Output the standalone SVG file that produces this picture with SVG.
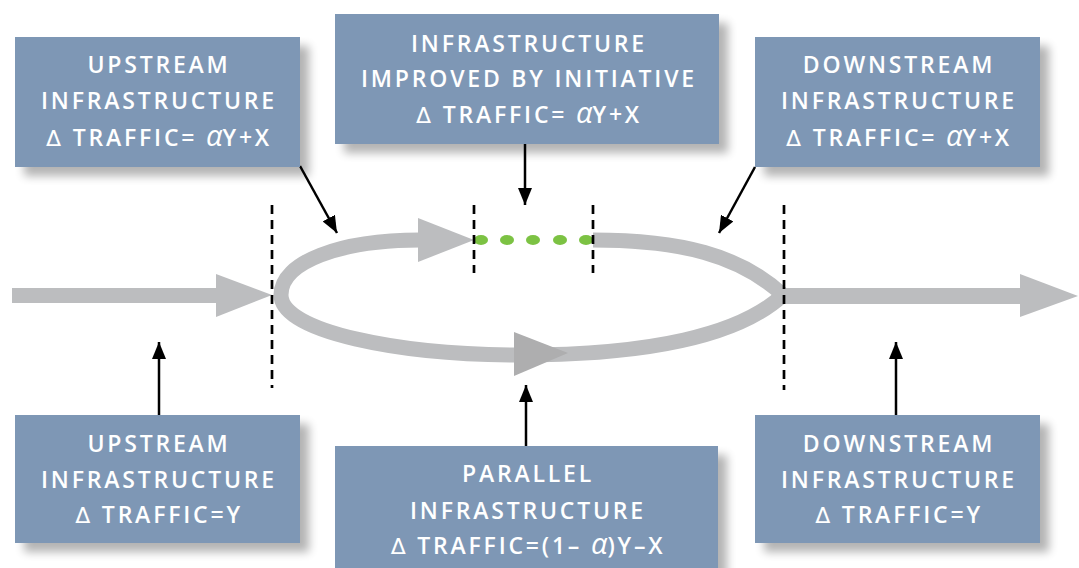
<svg xmlns="http://www.w3.org/2000/svg" width="1079" height="568" viewBox="0 0 1079 568">
<defs>
<filter id="sh" x="-10%" y="-10%" width="130%" height="140%">
<feGaussianBlur in="SourceAlpha" stdDeviation="5"/>
<feOffset dx="9" dy="9" result="b"/>
<feComponentTransfer><feFuncA type="linear" slope="0.3"/></feComponentTransfer>
<feMerge><feMergeNode/><feMergeNode in="SourceGraphic"/></feMerge>
</filter>
<marker id="bh" viewBox="0 0 17 14" refX="17" refY="7" markerWidth="17" markerHeight="14" markerUnits="userSpaceOnUse" orient="auto">
<path d="M0,0 L17,7 L0,14 Z" fill="#000"/>
</marker>
</defs>
<style>
.box{fill:#7e97b5;filter:url(#sh)}
.t{font-family:"Open Sans","Noto Sans","Liberation Sans",sans-serif;font-weight:600;font-size:23px;fill:#fff;letter-spacing:2.8px;text-anchor:middle}
.d{font-family:"DejaVu Sans",sans-serif;font-weight:400;font-size:22px}
.a{font-style:italic;font-weight:400;font-size:29px;letter-spacing:0}
.road{fill:none;stroke:#bcbdbf;stroke-width:15}
.rf{fill:#bcbdbf}
.dash{stroke:#000;stroke-width:2.7;stroke-dasharray:9 6;fill:none}
.conn{stroke:#000;stroke-width:2.5;fill:none;marker-end:url(#bh)}
.dot{fill:#7cc243}
</style>

<g id="flow">
<rect class="rf" x="12" y="288" width="204" height="15"/>
<polygon class="rf" points="216,274 272,295 216,317"/>
<path class="road" d="M430,240 L420,240 C340,240 281,262 281,295 C281,332 400,355 520,355 C650,355 740,335 783,295"/>
<path class="road" d="M593,240 C680,240 740,255 783,295"/>
<polygon class="rf" points="418,218 474,240 418,262"/>
<polygon fill="#aeaeaf" points="514,332 568,353 514,376"/>
<rect class="rf" x="783" y="288" width="237" height="16"/>
<polygon class="rf" points="1020,274 1078,296 1020,317"/>
<ellipse class="dot" cx="481" cy="240" rx="7" ry="5"/>
<ellipse class="dot" cx="507" cy="240" rx="7" ry="5"/>
<ellipse class="dot" cx="533" cy="240" rx="7" ry="5"/>
<ellipse class="dot" cx="560" cy="240" rx="7" ry="5"/>
<ellipse class="dot" cx="586" cy="240" rx="7" ry="5"/>
</g>

<g id="dividers">
<line class="dash" x1="272" y1="205" x2="272" y2="388"/>
<line class="dash" x1="474" y1="205" x2="474" y2="273"/>
<line class="dash" x1="593" y1="205" x2="593" y2="273"/>
<line class="dash" x1="784" y1="205" x2="784" y2="390"/>
</g>

<g id="connectors">
<line class="conn" x1="300" y1="166" x2="337" y2="233"/>
<line class="conn" x1="525" y1="144" x2="525" y2="205"/>
<line class="conn" x1="755" y1="167" x2="719" y2="233"/>
<line class="conn" x1="159" y1="416" x2="159" y2="342"/>
<line class="conn" x1="526" y1="446" x2="526" y2="385"/>
<line class="conn" x1="896" y1="416" x2="896" y2="342"/>
</g>

<g id="upstream-top">
<rect class="box" x="15" y="37" width="285" height="130"/>
<text class="t" x="159" y="73">UPSTREAM</text>
<text class="t" x="159" y="109">INFRASTRUCTURE</text>
<text class="t" x="159" y="146"><tspan class="d">Δ</tspan> TRAFFIC= <tspan class="a">α</tspan>Y+X</text>
</g>

<g id="improved-top">
<rect class="box" x="335" y="14" width="384" height="130"/>
<text class="t" x="529" y="52">INFRASTRUCTURE</text>
<text class="t" x="529" y="87">IMPROVED BY INITIATIVE</text>
<text class="t" x="529" y="123"><tspan class="d">Δ</tspan> TRAFFIC= <tspan class="a">α</tspan>Y+X</text>
</g>

<g id="downstream-top">
<rect class="box" x="755" y="37" width="285" height="130"/>
<text class="t" x="899" y="73">DOWNSTREAM</text>
<text class="t" x="899" y="109">INFRASTRUCTURE</text>
<text class="t" x="899" y="146"><tspan class="d">Δ</tspan> TRAFFIC= <tspan class="a">α</tspan>Y+X</text>
</g>

<g id="upstream-bottom">
<rect class="box" x="15" y="415" width="285" height="128"/>
<text class="t" x="159" y="452">UPSTREAM</text>
<text class="t" x="159" y="488">INFRASTRUCTURE</text>
<text class="t" x="159" y="523"><tspan class="d">Δ</tspan> TRAFFIC=Y</text>
</g>

<g id="parallel-bottom">
<rect class="box" x="335" y="446" width="383" height="130"/>
<text class="t" x="528" y="482">PARALLEL</text>
<text class="t" x="528" y="519">INFRASTRUCTURE</text>
<text class="t" x="528" y="554"><tspan class="d">Δ</tspan> TRAFFIC=(1– <tspan class="a">α</tspan>)Y–X</text>
</g>

<g id="downstream-bottom">
<rect class="box" x="755" y="415" width="285" height="128"/>
<text class="t" x="899" y="452">DOWNSTREAM</text>
<text class="t" x="899" y="488">INFRASTRUCTURE</text>
<text class="t" x="899" y="523"><tspan class="d">Δ</tspan> TRAFFIC=Y</text>
</g>
</svg>
